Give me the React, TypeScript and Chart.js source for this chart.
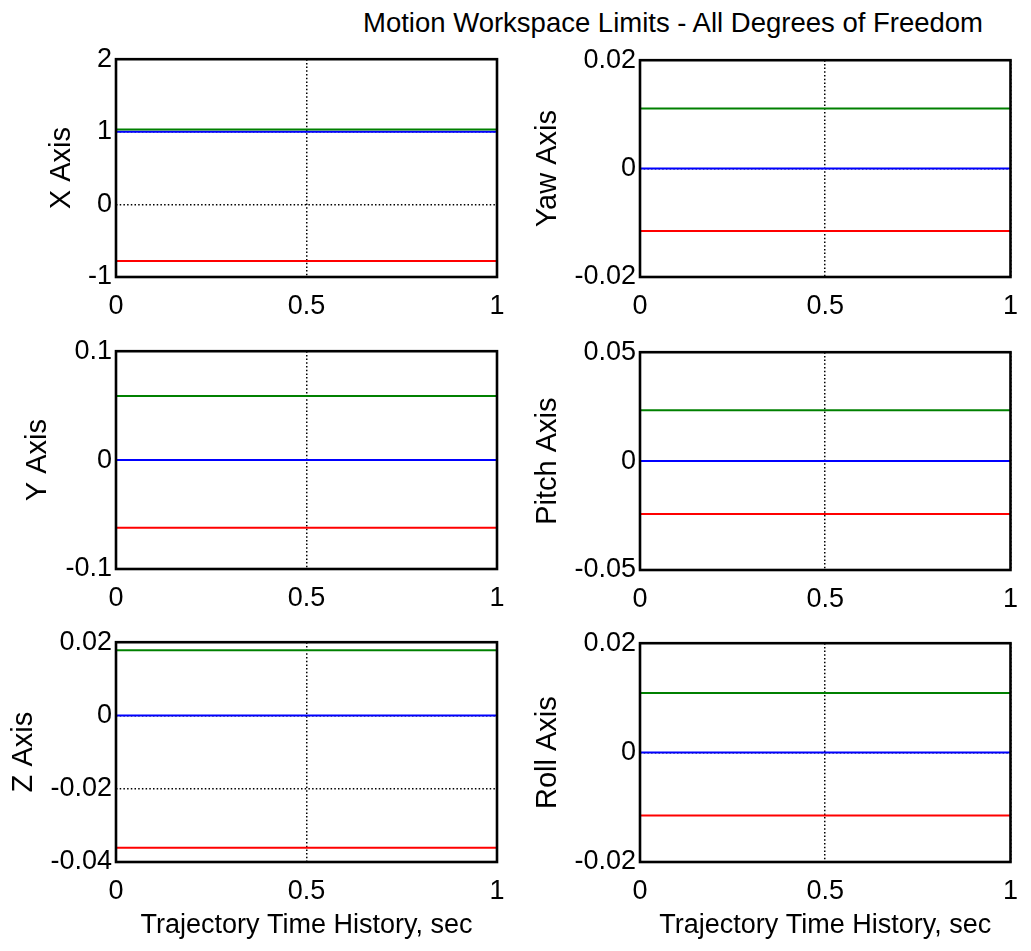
import React, { useEffect, useRef } from 'react';
import { Chart, registerables } from 'chart.js';

Chart.register(...registerables);

const FONT = "'Liberation Sans', Arial, Helvetica, sans-serif";

// ---- data ----
const figureTitle = 'Motion Workspace Limits - All Degrees of Freedom';
const xAxisTitle = 'Trajectory Time History, sec';
const timeSec = [0, 1];
const xTickValues = [0, 0.5, 1];
const xTickLabels = ['0', '0.5', '1'];

const axisNames = ['X Axis', 'Yaw Axis', 'Y Axis', 'Pitch Axis', 'Z Axis', 'Roll Axis'];
const upperLimit = [1.033, 0.0111, 0.0588, 0.0234, 0.0178, 0.0109]; // green
const nominal = [1.0, 0, 0, 0, 0, 0]; // blue
const lowerLimit = [-0.78, -0.0115, -0.0621, -0.0243, -0.0361, -0.0115]; // red

const yTickValues = [
  [-1, 0, 1, 2],
  [-0.02, 0, 0.02],
  [-0.1, 0, 0.1],
  [-0.05, 0, 0.05],
  [-0.04, -0.02, 0, 0.02],
  [-0.02, 0, 0.02],
];
const yTickLabels = [
  ['-1', '0', '1', '2'],
  ['-0.02', '0', '0.02'],
  ['-0.1', '0', '0.1'],
  ['-0.05', '0', '0.05'],
  ['-0.04', '-0.02', '0', '0.02'],
  ['-0.02', '0', '0.02'],
];

// ---- layout ----
const colCanvasLeft = [0, 520];
const colCanvasWidth = [520, 511];
const colPlotLeft = [116, 120];
const colRightPad = [23, 11];
const rowPlotTop = [[59, 60], [351, 352], [642, 643]];
const rowPlotBottom = [[277, 277], [569, 570], [862, 862]];
const yTitleCenter = [[62, 28], [38, 28], [24, 28]];
const TOP_PAD = 20;

const boxPlugin = {
  id: 'matlabBox',
  afterDatasetsDraw(chart: any) {
    const { ctx, chartArea: a } = chart;
    ctx.save();
    ctx.strokeStyle = '#000';
    ctx.lineWidth = 2.6;
    ctx.setLineDash([]);
    ctx.strokeRect(a.left, a.top, a.right - a.left, a.bottom - a.top);
    ctx.restore();
  },
};

function Panel({ index }: { index: number }) {
  const ref = useRef<HTMLCanvasElement | null>(null);
  const row = Math.floor(index / 2);
  const col = index % 2;
  const isBottom = row === 2;
  const plotTop = rowPlotTop[row][col];
  const plotBottom = rowPlotBottom[row][col];
  const xAxisH = isBottom ? 80 : 50;
  const canvasTop = plotTop - TOP_PAD;
  const canvasH = TOP_PAD + (plotBottom - plotTop) + xAxisH;
  const canvasW = colCanvasWidth[col];

  useEffect(() => {
    if (!ref.current) return;
    const yLabelSize = 29;
    const yTitlePad = yTitleCenter[row][col] - (yLabelSize * 1.2) / 2;
    const mk = (vals: number) => timeSec.map((t) => ({ x: t, y: vals }));
    const chart = new Chart(ref.current, {
      type: 'line',
      data: {
        datasets: [
          { data: mk(lowerLimit[index]), borderColor: '#ff0000', borderWidth: 2, pointRadius: 0, fill: false },
          { data: mk(upperLimit[index]), borderColor: '#008000', borderWidth: 2, pointRadius: 0, fill: false },
          { data: mk(nominal[index]), borderColor: '#0000ff', borderWidth: 2, pointRadius: 0, fill: false },
        ],
      },
      options: {
        responsive: false,
        animation: false,
        events: [],
        layout: { padding: { top: TOP_PAD, right: colRightPad[col], bottom: 0, left: 0 } },
        plugins: { legend: { display: false }, tooltip: { enabled: false }, title: { display: false } },
        scales: {
          x: {
            type: 'linear',
            min: 0,
            max: 1,
            afterBuildTicks: (s: any) => {
              s.ticks = xTickValues.map((v) => ({ value: v }));
            },
            afterFit: (s: any) => {
              s.height = xAxisH;
            },
            ticks: {
              autoSkip: false,
              maxRotation: 0,
              padding: 13,
              color: '#000',
              font: { family: FONT, size: 27 },
              callback: (_v: any, i: number) => xTickLabels[i],
            },
            grid: { color: '#000', lineWidth: 1.5, drawTicks: false },
            border: { display: false, dash: [1.5, 2.2] },
            title: {
              display: isBottom,
              text: xAxisTitle,
              color: '#000',
              font: { family: FONT, size: 27 },
              padding: { top: 0, bottom: 0 },
            },
          },
          y: {
            type: 'linear',
            min: yTickValues[index][0],
            max: yTickValues[index][yTickValues[index].length - 1],
            afterBuildTicks: (s: any) => {
              s.ticks = yTickValues[index].map((v) => ({ value: v }));
            },
            afterFit: (s: any) => {
              s.width = colPlotLeft[col];
            },
            ticks: {
              autoSkip: false,
              padding: 4,
              color: '#000',
              font: { family: FONT, size: 27 },
              callback: (_v: any, i: number) => yTickLabels[index][i],
            },
            grid: { color: '#000', lineWidth: 1.5, drawTicks: false },
            border: { display: false, dash: [1.5, 2.2] },
            title: {
              display: true,
              text: axisNames[index],
              color: '#000',
              font: { family: FONT, size: yLabelSize },
              padding: { top: yTitlePad, bottom: 0 },
            },
          },
        },
      },
      plugins: [boxPlugin],
    } as any);
    return () => chart.destroy();
  }, [index]);

  return (
    <canvas
      ref={ref}
      width={canvasW}
      height={canvasH}
      style={{ position: 'absolute', left: colCanvasLeft[col], top: canvasTop, width: canvasW, height: canvasH }}
    />
  );
}

export default function App() {
  return (
    <div style={{ position: 'absolute', left: 0, top: 0, width: 1031, height: 951, background: '#fff', overflow: 'hidden' }}>
      <div
        style={{
          position: 'absolute',
          left: 673,
          top: 9,
          transform: 'translateX(-50%)',
          whiteSpace: 'nowrap',
          fontFamily: FONT,
          fontSize: 27.5,
          lineHeight: '27px',
          color: '#000',
        }}
      >
        {figureTitle}
      </div>
      {axisNames.map((_, i) => (
        <Panel key={i} index={i} />
      ))}
    </div>
  );
}
